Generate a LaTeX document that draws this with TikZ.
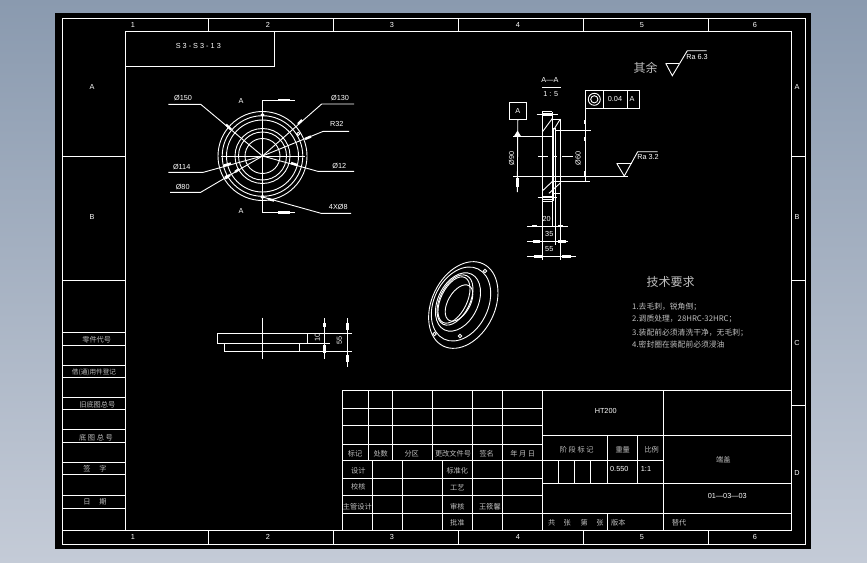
\documentclass[tikz,border=0pt]{standalone}
\usepackage{fontspec}
\setmainfont{Liberation Sans}
\newfontfamily\cjk{Noto Sans CJK SC}
\definecolor{bgtop}{RGB}{138,154,175}
\definecolor{bgbot}{RGB}{196,203,215}
\tikzset{
  x=1pt,y=-1pt,
  ln/.style={draw=white,line width=0.9pt},
  fat/.style={draw=white,line width=2.4pt},
  lbl/.style={text=white,inner sep=0pt,font=\fontsize{7.3}{7.3}\selectfont},
  cn/.style={text=black!25!white,inner sep=0pt,font=\cjk\fontsize{7.2}{7.2}\selectfont},
  tech/.style={cn,anchor=west,font=\cjk\fontsize{7.8}{7.8}\selectfont},
}
\newcommand{\TT}[3]{\node[lbl] (#1) at (#2) {#3};}
\newcommand{\CC}[3]{\node[cn] (#1) at (#2) {#3};}
\begin{document}
\begin{tikzpicture}
\useasboundingbox (0,0) rectangle (867,562);
\shade[top color=bgtop,bottom color=bgbot,draw=none] (0,0) rectangle (867,562);
\fill[black] (55,13) rectangle (811,549);
% frames
\draw[ln] (62.5,18.5) rectangle (805,544);
\draw[ln] (125.5,31) rectangle (791.5,530);
\draw[ln] (62.5,530) -- (125.5,530);
\draw[ln] (125.5,66) -- (274.5,66) -- (274.5,31);
\foreach \x in {208,333,458,583,708} {\draw[ln] (\x,18.5) -- (\x,31); \draw[ln] (\x,530) -- (\x,544);}
\foreach \y in {156,280} {\draw[ln] (62.5,\y) -- (125.5,\y);}
\foreach \y in {156,280,405} {\draw[ln] (791.5,\y) -- (805,\y);}
\foreach \y in {332,345,365,377,397,409,429,442,462,474,495,508} {\draw[ln] (62.5,\y) -- (125.5,\y);}
% title block
\draw[ln] (342.5,390.5) rectangle (791.5,530);
\foreach \y in {408.5,425.5,444,460.5,478,495,513} {\draw[ln] (342.5,\y) -- (542.5,\y);}
\foreach \x in {368,392.5,432.5} {\draw[ln] (\x,390.5) -- (\x,460.5);}
\foreach \x in {372.5,402.5,442.5} {\draw[ln] (\x,460.5) -- (\x,530);}
\foreach \x in {472.5,502.5,542.5} {\draw[ln] (\x,390.5) -- (\x,530);}
\draw[ln] (663.5,390.5) -- (663.5,530);
\draw[ln] (542.5,435.5) -- (791.5,435.5);
\draw[ln] (542.5,460.5) -- (663.5,460.5);
\draw[ln] (542.5,483.5) -- (791.5,483.5);
\draw[ln] (542.5,513.5) -- (791.5,513.5);
\draw[ln] (607.5,435.5) -- (607.5,483.5);
\draw[ln] (637.5,435.5) -- (637.5,483.5);
\foreach \x in {558.5,574.5,590.5} {\draw[ln] (\x,460.5) -- (\x,483.5);}
\draw[ln] (607.5,513.5) -- (607.5,530);
% round view
\foreach \r in {44.5,40.3,36,27.5,24,17.5} {\draw[ln] (262.5,156) circle[radius=\r pt];}
\draw[ln] (220.7,156) -- (305,156);
\draw[ln] (295,100) -- (262.5,100) -- (262.5,212.3) -- (295,212.3);
\foreach \p in {(262.5,115),(262.5,196.8),(298.3,133.8),(226.7,177)} {\draw[ln] \p circle[radius=1.6pt];}
\draw[ln] (168.3,104.3) -- (200.7,104.3) -- (262.5,156);
\draw[ln] (354,104) -- (321.7,104) -- (262.5,156);
\draw[ln] (349,131.3) -- (323.3,131.3) -- (262.5,156);
\draw[ln] (354,171.3) -- (317.7,171.3) -- (262.5,156);
\draw[ln] (351,213.3) -- (321,213.3) -- (262.5,197);
\draw[ln] (168.3,172.3) -- (203.3,172.3) -- (262.5,156);
\draw[ln] (170,192.3) -- (200.7,192.3) -- (262.5,156);
\draw[fat] (278,100) -- (290,100);
\draw[fat] (278,212.3) -- (290,212.3);
\draw[fat] (226,124.5) -- (231,129.5);
\draw[fat] (298,124) -- (302,120);
\draw[fat] (305,139) -- (311,136.5);
\draw[fat] (291,163) -- (297,165);
\draw[fat] (224,165.5) -- (231,163.5);
\draw[fat] (235,172) -- (239,169);
\draw[fat] (225,178) -- (230,175);
\draw[fat] (268,199) -- (274,200.5);
% flat view
\draw[ln] (352,333.3) -- (217.3,333.3) -- (217.3,343.3) -- (330,343.3);
\draw[ln] (307.3,333.3) -- (307.3,343.3);
\draw[ln] (224.3,343.3) -- (224.3,351.3) -- (352,351.3);
\draw[ln] (299.3,343.3) -- (299.3,351.3);
\draw[ln] (262.5,317.5) -- (262.5,359);
\draw[ln] (324.5,318) -- (324.5,359);
\draw[ln] (347.3,318) -- (347.3,367);
\draw[fat] (324.5,323) -- (324.5,327);
\draw[fat] (324.5,345) -- (324.5,353);
\draw[fat] (347.3,323) -- (347.3,330);
\draw[fat] (347.3,355) -- (347.3,362);
% iso view
\draw[ln] (463.3,305) ellipse[x radius=45.7pt,y radius=31.5pt,rotate=64];
\draw[ln] (461,304) ellipse[x radius=39pt,y radius=27pt,rotate=64];
\draw[ln] (458,302) ellipse[x radius=31pt,y radius=20pt,rotate=64];
\draw[ln] (455,300) ellipse[x radius=27pt,y radius=15pt,rotate=64];
\draw[ln] (454,300) ellipse[x radius=25pt,y radius=13pt,rotate=64];
\draw[ln] (459,303) ellipse[x radius=20pt,y radius=11pt,rotate=60];
\foreach \p in {(485,271),(460,336),(434.5,334)} {\draw[ln] \p circle[radius=1.7pt];}
% section view
\draw[ln] (542.3,111.7) -- (542.3,260);
\draw[ln] (552.3,111.7) -- (552.3,226);
\draw[ln] (553.5,128) -- (553.5,201);
\draw[ln] (555.7,128) -- (555.7,245);
\draw[ln] (560.3,119) -- (560.3,260);
\draw[ln] (542.3,111.7) -- (552.3,111.7);
\draw[ln] (542.3,113.3) -- (552.3,113.3);
\draw[ln] (542.3,115.7) -- (552.3,115.7);
\draw[ln] (542.3,196.7) -- (552.3,196.7);
\draw[ln] (542.3,199.3) -- (552.3,199.3);
\draw[ln] (542.3,201.7) -- (552.3,201.7);
\draw[ln] (536.7,114.3) -- (557.7,114.3);
\draw[ln] (537.7,197) -- (556.7,197);
\draw[ln] (552.3,119) -- (560.3,119);
\draw[ln] (552.3,193.3) -- (560.3,193.3);
\draw[ln] (542.3,132) -- (552.3,118.5);
\draw[ln] (552.3,132) -- (560.3,119);
\draw[ln] (542.3,191) -- (552.3,181.5);
\draw[ln] (549,193.3) -- (560.3,183);
\draw[ln] (538,156.3) -- (548,156.3);
\draw[ln] (553,156.3) -- (557,156.3);
\draw[ln] (562,156.3) -- (573,156.3);
\node[draw=white,line width=0.9pt,minimum width=17.7pt,minimum height=17pt,inner sep=0pt] (datum) at (517.8,110.8) {};
\coordinate (datumfoot) at (517.3,192);
\draw[ln] (datum.south) -- (datumfoot);
\fill[white] (514,136.3) -- (521,136.3) -- (517.5,130.5) -- cycle;
\draw[ln] (513,136.3) -- (552.3,136.3);
\draw[ln] (513,176.3) -- (628,176.3);
\draw[ln] (555.7,130) -- (591,130);
\draw[ln] (552.3,181) -- (590,181);
\draw[ln] (585.2,90.7) -- (585.2,181.5);
\draw[fat] (517.3,178) -- (517.3,187);
\draw[fat] (585.2,120) -- (585.2,124);
\draw[fat] (585.2,137) -- (585.2,141);
\draw[fat] (585.2,171) -- (585.2,176);
\draw[ln] (527.3,226) -- (567.7,226);
\draw[ln] (527.3,241.3) -- (567.7,241.3);
\draw[ln] (527.3,256.3) -- (576,256.3);
\draw[fat] (532,226) -- (537,226);
\draw[fat] (558,226) -- (563,226);
\draw[fat] (533,241.3) -- (540,241.3);
\draw[fat] (558,241.3) -- (566,241.3);
\draw[fat] (534,256.3) -- (541.7,256.3);
\draw[fat] (562,256.3) -- (571,256.3);
\draw[ln] (542,87.3) -- (561,87.3);
% tolerance frame
\draw[ln] (585.7,90.7) rectangle (639.3,108.3);
\draw[ln] (603.3,90.7) -- (603.3,108.3);
\draw[ln] (627.3,90.7) -- (627.3,108.3);
\draw[ln] (594.3,99.3) circle[radius=6pt];
\draw[ln] (594.3,99.3) circle[radius=3.6pt];
% finish symbols
\draw[ln] (616.7,163.3) -- (631.7,163.3);
\draw[ln] (616.7,163.3) -- (624.3,176) -- (637.7,151.7) -- (657.7,151.7);
\draw[ln] (665.7,63.3) -- (679,63.3);
\draw[ln] (665.7,63.3) -- (672.3,75.7) -- (687.3,50.7) -- (706.7,50.7);
% zone labels
\TT{t1}{133,25}{1}\TT{t2}{268,25}{2}\TT{t3}{392,25}{3}\TT{t4}{518,25}{4}\TT{t5}{642,25}{5}\TT{t6}{755,25}{6}
\TT{b1}{133,537}{1}\TT{b2}{268,537}{2}\TT{b3}{392,537}{3}\TT{b4}{518,537}{4}\TT{b5}{642,537}{5}\TT{b6}{755,537}{6}
\TT{la}{92,87}{A}\TT{lb}{92,217}{B}
\TT{ra}{797,87}{A}\TT{rb}{797,217}{B}\TT{rc}{797,343}{C}\TT{rd}{797,473}{D}
\TT{code}{198.3,45.7}{S 3 - S 3 - 1 3}
% round view labels
\TT{d150}{183,98}{Ø150}
\TT{d130}{340,98}{Ø130}
\TT{r32}{336.7,124.3}{R32}
\TT{d12}{339.3,166}{Ø12}
\TT{hole}{338.3,206.7}{4XØ8}
\TT{d114}{181.7,166.7}{Ø114}
\TT{d80}{182.7,186.7}{Ø80}
\TT{a1}{241,100.7}{A}\TT{a2}{241,211}{A}
% flat view labels
\node[lbl,rotate=90] (h10) at (317.3,337.7) {10};
\node[lbl,rotate=90] (h55) at (339.3,340.7) {55};
% section labels
\TT{secname}{550,79.5}{A—A}
\TT{secscale}{550.7,94}{1 : 5}
\TT{dat}{517.8,110.8}{A}
\node[lbl,rotate=90] (d90) at (511.5,158.3) {Ø90};
\node[lbl,rotate=90] (d60) at (578,158.3) {Ø60};
\TT{w20}{546.7,219.3}{20}
\TT{w35}{549.3,234}{35}
\TT{w55}{549.3,249}{55}
\TT{tolv}{615,99.3}{0.04}
\TT{tola}{632,99.3}{A}
\TT{ra32}{648,156.5}{Ra 3.2}
\TT{ra63}{697,57}{Ra 6.3}
\node[cn,font=\cjk\fontsize{12}{12}\selectfont] (rest) at (645.5,68.3) {其余};
% tech requirements
\node[cn,font=\cjk\fontsize{12}{12}\selectfont] (techt) at (670.7,281.5) {技术要求};
\node[tech] (tech1) at (632,306.7) {1.去毛刺，锐角倒；};
\node[tech] (tech2) at (632,319.3) {2.调质处理，28HRC-32HRC；};
\node[tech] (tech3) at (632,332.5) {3.装配前必须清洗干净，无毛刺；};
\node[tech] (tech4) at (632,345) {4.密封圈在装配前必须浸油};
% left column
\CC{l1}{96.7,340}{零件代号}
\node[cn,font=\cjk\fontsize{6.6}{6.6}\selectfont] (l2) at (94,372.3) {借(通)用件登记};
\CC{l3}{97.3,404.3}{旧底图总号}
\CC{l4}{96,437.3}{底 图 总 号}
\CC{l5}{95,469}{签 \quad 字}
\CC{l6}{95,502.3}{日 \quad 期}
% title block text
\CC{c1}{355,454}{标记}\CC{c2}{380.7,454}{处数}\CC{c3}{411.7,454}{分区}
\CC{c4}{453,454}{更改文件号}\CC{c5}{486.7,454}{签名}\CC{c6}{522.7,454}{年 月 日}
\CC{c7}{358.3,470.7}{设计}\CC{c8}{457.3,470.7}{标准化}
\CC{c9}{358.3,487}{校核}\CC{c10}{457.3,488}{工艺}
\CC{c11}{357.3,506.7}{主管设计}\CC{c12}{457.3,506.7}{审核}\CC{c13}{490,506.7}{王筱馨}
\CC{c14}{457.3,522.7}{批准}
\TT{mat}{605.7,410.7}{HT200}
\CC{c15}{576.7,449.3}{阶 段 标 记}\CC{c16}{622.7,449.3}{重量}\CC{c17}{651.7,449.3}{比例}
\TT{wt}{619.3,469}{0.550}\TT{sc}{646,469}{1:1}
\CC{c18}{723.3,460}{端盖}
\TT{dwg}{727.3,496}{01—03—03}
\CC{c19}{551.7,522.7}{共}\CC{c20}{567.3,522.7}{张}\CC{c21}{584.3,522.7}{第}\CC{c22}{600,522.7}{张}
\CC{c23}{618.3,522.7}{版本}\CC{c24}{679,522.7}{替代}
\end{tikzpicture}
\end{document}
